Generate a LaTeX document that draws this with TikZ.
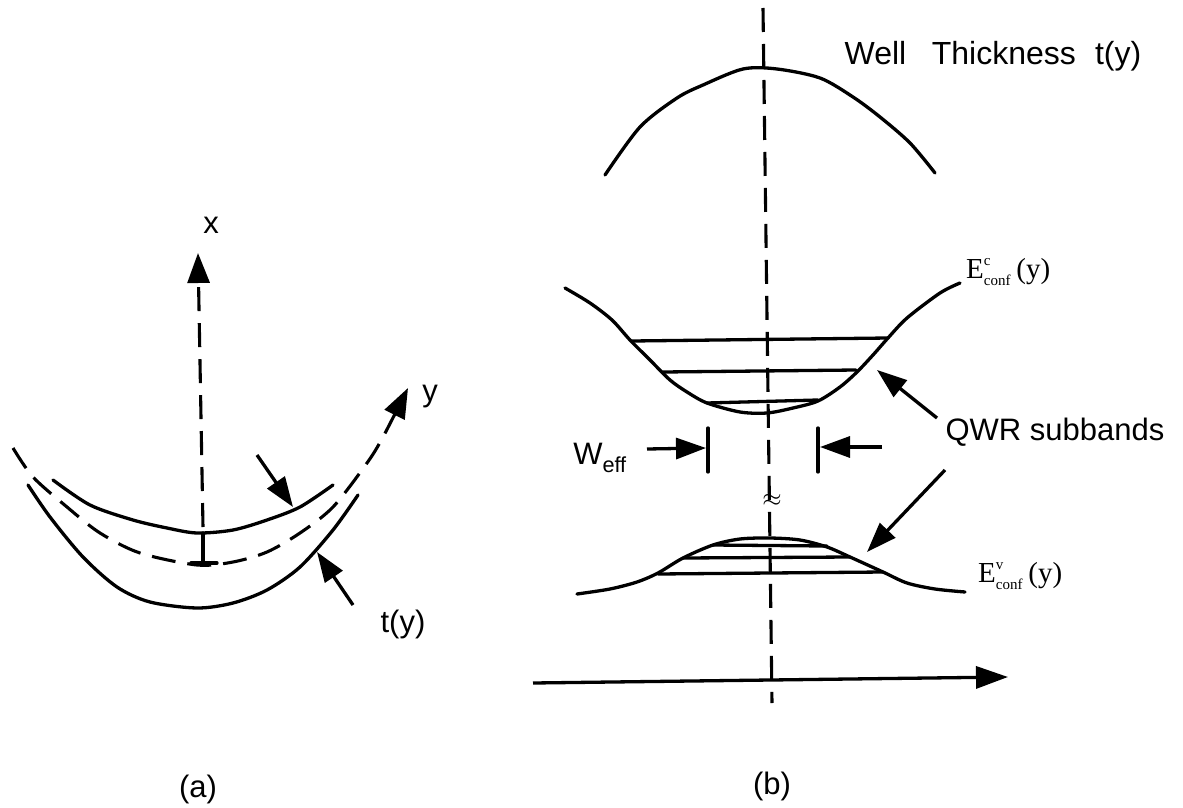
\documentclass[tikz,border=0pt]{standalone}
\usepackage{fontspec}
\setmainfont{Liberation Sans}
\newfontfamily\timesfont{Liberation Serif}
\usetikzlibrary{arrows.meta}

\newcommand{\confsub}[1]{\raisebox{-7pt}{\fontsize{15}{20}\selectfont\begin{tabular}[b]{@{}l@{}}#1\\conf\end{tabular}}}

\begin{document}
\begin{tikzpicture}[
	x=1pt, y=-1pt,
	wire/.style={line width=3.3pt, line join=round, line cap=round},
	dashwire/.style={line width=3.1pt, dash pattern=on 24pt off 12pt},
	pointer/.style={line width=3.3pt, -{Triangle[length=30pt, width=21pt]}},
	txt/.style={inner sep=0pt, font=\fontsize{31}{36}\selectfont},
	energy/.style={inner sep=0pt, font=\timesfont\fontsize{29}{34}\selectfont}
	]
	\useasboundingbox (0,0) rectangle (1183,808);
	
	% --- (a) WIRE CROSS SECTION ---
	\draw[dashwire, -{Triangle[length=30pt, width=22pt]}] (203,527) -- (198,253);
	\draw[wire] (203,533) -- (203,563);
	\draw[wire] (191,563) -- (217,563);
	\draw[wire] plot[smooth] coordinates {(53,480) (90,505) (133,520) (167,528) (197,533) (233,530) (267,520) (300,507) (333,485)};
	\draw[wire] plot[smooth] coordinates {(28,485) (50,517) (83,557) (117,587) (150,602) (197,608) (233,603) (267,590) (300,567) (333,530) (358,495)};
	\draw[dashwire, -{Triangle[length=30pt, width=22pt]}] plot[smooth] coordinates {(13,448) (33,477) (67,507) (100,533) (140,553) (197,565) (233,562) (267,552) (300,533) (333,507) (367,463) (383,437) (408,388)};
	
	\node[txt] (xlab) at (211,225) {x};
	\node[txt] (ylab) at (430,397) {y};
	\node[txt] (tlab) at (403,624) {t(y)};
	\node[txt] (alab) at (198,789) {(a)};
	
	\coordinate (topout) at (257,455); \coordinate (topin) at (293,507);
	\coordinate (botout) at (353,605); \coordinate (botin) at (317,552);
	\draw[pointer] (topout) -- (topin);
	\draw[pointer] (botout) -- (botin);
	
	% --- (b) THICKNESS AND BAND PROFILES ---
	\draw[dashwire] (763,8) -- (772,703);
	\draw[wire] plot[smooth] coordinates {(605,175) (640,127) (677,98) (703,85) (743,69) (777,69) (820,78) (853,97) (880,117) (910,143) (935,173)};
	\draw[wire] plot[smooth] coordinates {(565,288) (590,303) (612,320) (630,340) (650,360) (670,380) (687,392) (707,403) (740,412) (767,413) (793,408) (818,401) (840,387) (857,372) (873,355) (888,338) (907,318) (940,293) (960,283)};
	\draw[wire] (632,341) -- (888,338);
	\draw[wire] (663,372) -- (856,370);
	\draw[wire] (707,403) -- (818,400);
	\draw[wire] plot[smooth] coordinates {(577,594) (610,589) (637,582) (658,573) (683,558) (713,545) (740,539) (770,538) (800,540) (827,547) (850,557) (883,572) (907,583) (935,589) (965,592)};
	\draw[wire] (713,545) -- (827,546);
	\draw[wire] (683,558) -- (850,557);
	\draw[wire] (658,574) -- (883,572);
	\draw[pointer, -{Triangle[length=32pt, width=22pt]}] (533,683) -- (1008,677);
	
	% W_eff markers
	\draw[wire] (708,428) -- (708,472);
	\draw[wire] (818,428) -- (818,472);
	\draw[pointer] (647,449) -- (706,448);
	\draw[pointer] (882,447) -- (820,447);
	
	\node[txt, font=\fontsize{32}{36}\selectfont] (thick) at (993,56) {Well\hspace{0.8em}Thickness\hspace{0.6em}t(y)};
	\node[txt] (weff) at (600,458) {W\textsubscript{eff}};
	\node[inner sep=0pt, font=\fontsize{23}{26}\selectfont] (gap) at (772,500) {$\approx$};
	\node[energy, anchor=base west] (ecl) at (966,278) {E\confsub{c}\hspace{0.2em}(y)};
	\node[energy, anchor=base west] (evl) at (978,582) {E\confsub{v}\hspace{0.2em}(y)};
	\node[txt] (qwr) at (1055,432) {QWR subbands};
	\node[txt] (blab) at (772,786) {(b)};
	
	\coordinate (qwrup) at (937,418); \coordinate (cband) at (877,370);
	\coordinate (qwrdn) at (945,470); \coordinate (vband) at (867,552);
	\draw[pointer] (qwrup) -- (cband);
	\draw[pointer] (qwrdn) -- (vband);
	
\end{tikzpicture}
\end{document}
